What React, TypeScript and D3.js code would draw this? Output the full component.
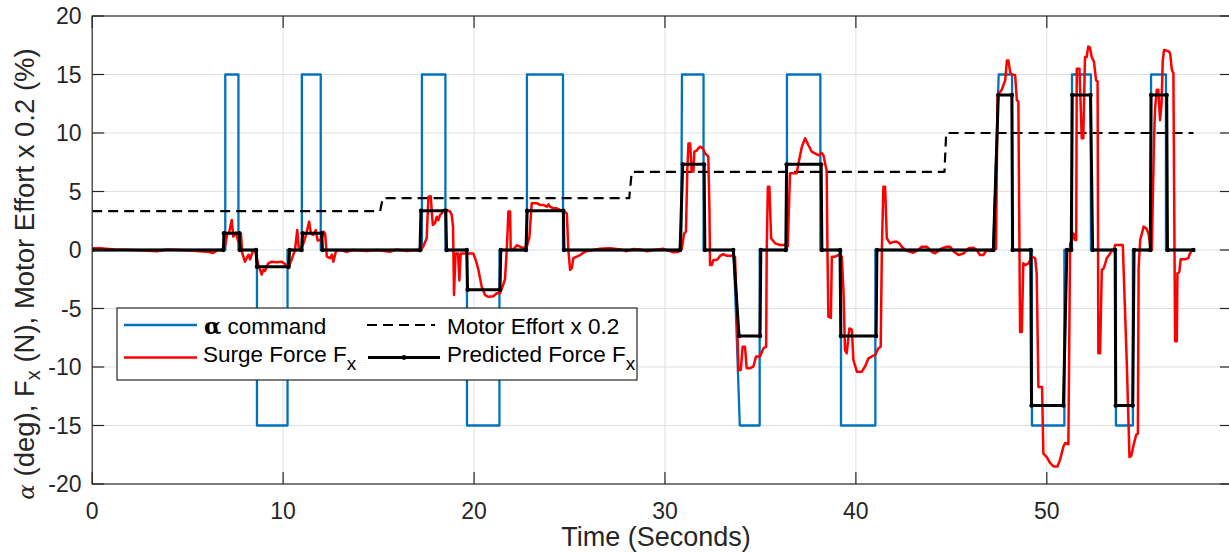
import React from "react";
import * as d3 from "d3";

// ---------- data ----------
const X_TICKS = [0, 10, 20, 30, 40, 50];
const Y_TICKS = [-20, -15, -10, -5, 0, 5, 10, 15, 20];
const X_DOMAIN: [number, number] = [0, 59.7];
const Y_DOMAIN: [number, number] = [-20, 20];

// alpha command (deg)
const commandSeries: [number, number][] = [
  [0, 0], [6.97, 0], [6.97, 15], [7.66, 15], [7.66, 0], [8.63, 0], [8.63, -15], [10.23, -15], [10.23, 0],
  [10.98, 0], [10.98, 15], [11.97, 15], [11.97, 0], [17.27, 0], [17.27, 15], [18.5, 15], [18.5, 0],
  [19.63, 0], [19.63, -15], [21.33, -15], [21.33, 0], [22.77, 0], [22.77, 15], [24.66, 15], [24.66, 0],
  [30.85, 0], [30.89, 15], [32.02, 15], [32.02, 0], [33.6, 0], [33.92, -15], [34.96, -15], [34.96, 0],
  [36.39, 0], [36.39, 15], [38.14, 15], [38.14, 0], [39.22, 0], [39.22, -15], [41.02, -15], [41.02, 0],
  [47.2, 0], [47.48, 15], [48.18, 15], [48.18, 0], [49.22, 0], [49.22, -15], [50.92, -15], [50.92, 0],
  [51.32, 0], [51.32, 15], [52.31, 15], [52.31, 0], [53.62, 0], [53.62, -15], [54.51, -15], [54.51, 0],
  [55.46, 0], [55.46, 15], [56.24, 15], [56.24, 0], [57.68, 0],
];

// motor effort x 0.2 (%)
const motorSeries: [number, number][] = [
  [0, 3.33], [15.08, 3.33], [15.22, 4.44], [28.13, 4.44], [28.26, 6.67], [44.64, 6.67], [44.73, 10], [57.68, 10],
];

// surge force Fx (N)
const surgeSeries: [number, number][] = [
  [0.01, 0.14], [0.41, 0.14], [1.19, 0.05], [2.14, 0], [3.39, -0.1], [3.92, 0.05], [4.6, 0], [5.65, -0.1],
  [6.07, -0.15], [6.33, -0.25], [6.59, 0], [6.85, 0], [6.96, 0.3], [7.06, 1.28], [7.17, 1.5], [7.31, 2.56],
  [7.39, 1.14], [7.53, 1.5], [7.65, 0.7], [7.79, 1.4], [7.86, -0.27], [8.0, -1.0], [8.18, -0.4], [8.27, -0.8],
  [8.41, -0.1], [8.53, 0], [8.7, -1.28], [8.88, -2.1], [8.96, -1.7], [9.05, -1.8], [9.22, -1.14], [9.4, -1.0],
  [9.66, -1.05], [9.93, -1.0], [10.1, -1.2], [10.27, -1.57], [10.45, -0.8], [10.62, 0], [10.74, 1.7], [10.83, 0],
  [10.97, 0.15], [11.15, 1.0], [11.24, 1.57], [11.36, 2.42], [11.46, 1.4], [11.58, 1.3], [11.71, 1.7], [11.81, 0.8],
  [12.02, 0.9], [12.11, 1.57], [12.2, 1.4], [12.29, -0.57], [12.46, -0.7], [12.55, -0.4], [12.63, -1.0], [12.77, -0.1],
  [12.98, 0], [13.33, -0.15], [13.66, 0], [14.38, -0.08], [14.9, 0], [15.6, -0.15], [15.95, 0.05], [16.47, -0.08],
  [17.0, 0], [17.17, -0.08], [17.34, 0.3], [17.52, 1.0], [17.61, 4.56], [17.73, 4.6], [17.84, 2.14], [17.96, 2.3],
  [18.05, 2.85], [18.13, 2.56], [18.22, 3.0], [18.31, 3.13], [18.39, 3.42], [18.57, 3.42], [18.74, 3.3], [18.83, 3.0],
  [18.9, 2.0], [18.95, -3.85], [19.03, -0.3], [19.16, -0.3], [19.23, -2.6], [19.3, -0.3], [19.53, -0.3], [19.96, -0.3],
  [20.1, -0.9], [20.23, -1.7], [20.4, -3.13], [20.58, -3.85], [20.75, -4.0], [21.01, -3.95], [21.19, -3.7], [21.36, -3.7],
  [21.5, -3.1], [21.62, -2.5], [21.71, -0.1], [21.8, 3.28], [21.89, 3.28], [21.92, 0], [22.06, 0.05], [22.24, 0.4],
  [22.41, 0.28], [22.58, 0.15], [22.76, 0.28], [22.9, 1.1], [23.02, 4.0], [23.28, 4.0], [23.46, 3.85], [23.63, 3.85],
  [23.81, 3.7], [23.9, 3.9], [23.98, 3.7], [24.16, 3.56], [24.33, 3.56], [24.51, 3.42], [24.68, 3.36], [24.86, 3.13],
  [24.94, 0], [25.03, -1.7], [25.12, -1.55], [25.2, -0.7], [25.38, -0.57], [25.55, -0.43], [25.73, -0.23], [25.9, -0.1],
  [26.25, 0], [26.6, 0.1], [27.12, 0.14], [27.65, 0.05], [28.0, -0.1], [28.33, 0.08], [28.7, 0.05], [29.05, -0.1],
  [29.39, 0], [29.92, 0.1], [30.44, -0.2], [30.69, -0.15], [30.88, 0.1], [31.0, 1.4], [31.1, 1.57], [31.17, 6.8],
  [31.23, 9.1], [31.32, 9.1], [31.4, 6.7], [31.49, 6.7], [31.54, 8.4], [31.66, 8.5], [31.75, 8.7], [31.84, 8.83],
  [31.98, 8.7], [32.1, 8.26], [32.27, 8.0], [32.33, 3.4], [32.36, -1.28], [32.45, -1.28], [32.54, -0.85], [32.71, -0.85],
  [32.8, -0.7], [32.89, -0.5], [33.06, -0.35], [33.24, -0.5], [33.5, -0.5], [33.67, -0.6], [33.78, -6.0], [33.85, -10.26],
  [33.97, -10.26], [34.07, -8.26], [34.19, -8.26], [34.28, -10.1], [34.46, -10.1], [34.63, -9.96], [34.77, -9.1], [34.98, -9.1],
  [35.16, -8.4], [35.3, -8.26], [35.33, 0], [35.39, 5.4], [35.47, 5.4], [35.56, 1.0], [35.77, 0.57], [36.03, 0.43],
  [36.29, 0.43], [36.43, 0.3], [36.55, 6.55], [36.73, 6.55], [36.9, 6.55], [36.99, 7.4], [37.17, 8.83], [37.34, 9.55],
  [37.51, 8.97], [37.69, 8.4], [37.86, 8.26], [38.04, 8.1], [38.21, 8.3], [38.3, 8.1], [38.39, 7.4], [38.47, 6.8],
  [38.51, 0], [38.56, -5.7], [38.69, -5.8], [38.74, -0.57], [38.91, -0.57], [39.08, -0.43], [39.26, -0.57], [39.35, -3.5],
  [39.43, -8.55], [39.52, -8.83], [39.66, -6.7], [39.79, -6.8], [39.87, -9.4], [40.05, -10.4], [40.31, -10.4], [40.48, -9.96],
  [40.66, -9.26], [40.83, -9.1], [41.01, -8.97], [41.18, -8.4], [41.3, -8.26], [41.36, 0], [41.44, 5.4], [41.53, 5.4],
  [41.62, 1.0], [41.79, 0.57], [41.97, 0.7], [42.14, 0.7], [42.28, 0.57], [42.4, 0.28], [42.58, 0], [42.84, -0.15],
  [43.01, -0.23], [43.27, 0], [43.45, 0.28], [43.71, 0.28], [43.98, -0.15], [44.15, -0.28], [44.5, 0.14], [44.76, 0.28],
  [44.94, 0.28], [45.11, -0.1], [45.37, -0.43], [45.63, -0.3], [45.9, 0.14], [46.16, 0.2], [46.33, 0], [46.5, -0.43],
  [46.68, -0.43], [46.85, 0], [47.02, -0.1], [47.2, 0], [47.34, 0.1], [47.42, 13.2], [47.64, 13.7], [47.82, 14.5],
  [47.91, 16.2], [47.99, 16.2], [48.08, 15.2], [48.17, 15.0], [48.34, 14.96], [48.43, 12.8], [48.51, 12.7], [48.6, -7.0],
  [48.69, -7.0], [48.77, -1.14], [48.86, -1.3], [49.04, -1.14], [49.13, -0.85], [49.21, -0.57], [49.39, -0.7], [49.47, -2.0],
  [49.56, -11.7], [49.75, -11.7], [49.82, -17.4], [50.0, -17.7], [50.17, -18.2], [50.35, -18.5], [50.56, -18.5], [50.7, -17.9],
  [50.87, -16.8], [50.96, -16.5], [51.13, -16.6], [51.22, 0.5], [51.31, 0.85], [51.4, 1.4], [51.48, 0.85], [51.54, 0.85],
  [51.57, 15.5], [51.65, 15.5], [51.71, 15.5], [51.83, 9.55], [51.91, 9.55], [52.0, 16.5], [52.09, 16.5], [52.17, 17.4],
  [52.26, 17.3], [52.35, 16.5], [52.47, 16.1], [52.58, 14.5], [52.66, 14.4], [52.7, -8.83], [52.79, -8.83], [52.88, -1.7],
  [52.97, -1.6], [53.05, -1.2], [53.14, -0.7], [53.32, -0.3], [53.41, 0], [53.49, -0.1], [53.58, 0.43], [53.98, 0.43],
  [54.19, -9.7], [54.33, -17.7], [54.42, -17.6], [54.54, -16.7], [54.68, -15.8], [54.77, -15.7], [54.81, -1.5], [54.89, 0.85],
  [54.98, 1.4], [55.07, 2.0], [55.21, 1.85], [55.33, 1.4], [55.42, 0.3], [55.5, 0], [55.62, 9.7], [55.67, 12.1],
  [55.76, 13.7], [55.84, 13.7], [55.93, 11.1], [56.01, 12.5], [56.07, 16.1], [56.14, 17.1], [56.37, 17.0], [56.46, 16.8],
  [56.55, 15.4], [56.63, 15.1], [56.72, -7.8], [56.81, -7.8], [56.84, -2.0], [56.94, -1.9], [57.01, -0.8], [57.24, -0.8],
  [57.41, -0.7], [57.5, -0.3], [57.64, 0.1],
];

// predicted force Fx (N)
const predictedSeries: [number, number][] = [
  [0, 0], [6.87, 0], [6.9, 1.43], [7.71, 1.43], [7.74, 0], [8.58, 0], [8.63, -1.43], [10.29, -1.43], [10.34, 0],
  [10.97, 0], [11.02, 1.43], [12.02, 1.43], [12.06, 0], [17.17, 0], [17.22, 3.36], [18.52, 3.36], [18.56, 0],
  [19.62, 0], [19.66, -3.4], [21.36, -3.4], [21.4, 0], [22.72, 0], [22.78, 3.36], [24.68, 3.36], [24.71, 0],
  [30.79, 0], [30.93, 7.32], [32.05, 7.32], [32.09, 0], [33.58, 0], [33.88, -7.35], [34.98, -7.35], [35.02, 0],
  [36.33, 0], [36.37, 7.32], [38.18, 7.32], [38.22, 0], [39.17, 0], [39.21, -7.35], [41.06, -7.35], [41.1, 0],
  [47.2, 0], [47.46, 13.25], [48.17, 13.25], [48.21, 0], [49.16, 0], [49.2, -13.3], [50.87, -13.3], [51.05, 0],
  [51.28, 0], [51.33, 13.25], [52.29, 13.25], [52.4, 0], [53.58, 0], [53.61, -13.3], [54.5, -13.3], [54.57, 0],
  [55.42, 0], [55.46, 13.25], [56.28, 13.25], [56.32, 0], [57.68, 0],
];

// ---------- layout ----------
const W = 1229;
const H = 552;
const PLOT = { left: 92.2, right: 1232, top: 16, bottom: 484 };
const FONT = "'Liberation Sans', Arial, Helvetica, sans-serif";
const AXIS_COLOR = "#262626";
const GRID_COLOR = "#dfdfdf";
const BLUE = "#0072BD";
const RED = "#FF0000";

export default function App() {
  const x = d3.scaleLinear().domain(X_DOMAIN).range([PLOT.left, PLOT.right]);
  const y = d3.scaleLinear().domain(Y_DOMAIN).range([PLOT.bottom, PLOT.top]);
  const line = d3
    .line<[number, number]>()
    .x((d) => x(d[0]))
    .y((d) => y(d[1]));

  const tickLen = 12;

  // legend geometry
  const lg = { x0: 117, y0: 308, x1: 637, y1: 380 };
  const row1 = 325;
  const row2 = 357.5;
  const legendFont = 22.5;

  return (
    <svg
      width={W}
      height={H}
      viewBox={`0 0 ${W} ${H}`}
      style={{ position: "absolute", left: 0, top: 0, display: "block", background: "#fff" }}
      fontFamily={FONT}
    >
      <defs>
        <clipPath id="plotClip">
          <rect x={PLOT.left} y={PLOT.top} width={PLOT.right - PLOT.left} height={PLOT.bottom - PLOT.top} />
        </clipPath>
      </defs>
      <rect x={0} y={0} width={W} height={H} fill="#fff" />

      {/* grid */}
      <g stroke={GRID_COLOR} strokeWidth={1}>
        {X_TICKS.filter((t) => t !== X_DOMAIN[0]).map((t) => (
          <line key={"gx" + t} x1={x(t)} x2={x(t)} y1={PLOT.top} y2={PLOT.bottom} />
        ))}
        {Y_TICKS.filter((t) => t !== Y_DOMAIN[0] && t !== Y_DOMAIN[1]).map((t) => (
          <line key={"gy" + t} x1={PLOT.left} x2={PLOT.right} y1={y(t)} y2={y(t)} />
        ))}
      </g>

      {/* series */}
      <g clipPath="url(#plotClip)" fill="none" strokeLinejoin="round">
        <path d={line(commandSeries) || ""} stroke={BLUE} strokeWidth={2.3} />
        <path d={line(motorSeries) || ""} stroke="#000" strokeWidth={2.2} strokeDasharray="10,6" />
        <path d={line(surgeSeries) || ""} stroke={RED} strokeWidth={2.5} />
        <path d={line(predictedSeries) || ""} stroke="#000" strokeWidth={3} />
        <g fill="#000">
          {predictedSeries.map((d, i) => (
            <circle key={"pm" + i} cx={x(d[0])} cy={y(d[1])} r={2.2} />
          ))}
        </g>
      </g>

      {/* axes box */}
      <rect
        x={PLOT.left}
        y={PLOT.top}
        width={PLOT.right - PLOT.left}
        height={PLOT.bottom - PLOT.top}
        fill="none"
        stroke={AXIS_COLOR}
        strokeWidth={1.2}
      />

      {/* ticks */}
      <g stroke={AXIS_COLOR} strokeWidth={1.2}>
        {X_TICKS.map((t) => (
          <g key={"tx" + t}>
            <line x1={x(t)} x2={x(t)} y1={PLOT.bottom} y2={PLOT.bottom - tickLen} />
            <line x1={x(t)} x2={x(t)} y1={PLOT.top} y2={PLOT.top + tickLen} />
          </g>
        ))}
        {Y_TICKS.map((t) => (
          <g key={"ty" + t}>
            <line x1={PLOT.left} x2={PLOT.left + tickLen} y1={y(t)} y2={y(t)} />
            <line x1={PLOT.right} x2={PLOT.right - tickLen} y1={y(t)} y2={y(t)} />
          </g>
        ))}
      </g>

      {/* tick labels */}
      <g fill={AXIS_COLOR} fontSize={23}>
        {X_TICKS.map((t) => (
          <text key={"lx" + t} x={x(t)} y={519} textAnchor="middle">
            {t}
          </text>
        ))}
        {Y_TICKS.map((t) => (
          <text key={"ly" + t} x={81.5} y={y(t) + 8.3} textAnchor="end">
            {t}
          </text>
        ))}
      </g>

      {/* axis labels */}
      <text x={656} y={546} textAnchor="middle" fontSize={27} fill={AXIS_COLOR}>
        Time (Seconds)
      </text>
      <text transform={`translate(34, 274) rotate(-90)`} textAnchor="middle" fontSize={27.5} fill={AXIS_COLOR}>
        <tspan fontFamily="'DejaVu Serif', serif" fontStyle="italic" fontSize={23}>
          α
        </tspan>
        <tspan> (deg), F</tspan>
        <tspan fontSize={20} dy={6}>
          x
        </tspan>
        <tspan dy={-6}> (N), Motor Effort x 0.2 (%)</tspan>
      </text>

      {/* legend */}
      <g>
        <rect x={lg.x0} y={lg.y0} width={lg.x1 - lg.x0} height={lg.y1 - lg.y0} fill="#fff" stroke={AXIS_COLOR} strokeWidth={1.2} />
        <line x1={124} x2={197} y1={row1} y2={row1} stroke={BLUE} strokeWidth={2.3} />
        <line x1={124} x2={197} y1={row2} y2={row2} stroke={RED} strokeWidth={2.5} />
        <line x1={367} x2={435} y1={row1} y2={row1} stroke="#000" strokeWidth={2.2} strokeDasharray="10,6" />
        <line x1={368} x2={440} y1={row2} y2={row2} stroke="#000" strokeWidth={3} />
        <circle cx={404} cy={row2} r={2.4} fill="#000" />
        <g fontSize={legendFont} fill="#000">
          <text x={204} y={334}>
            <tspan fontFamily="'DejaVu Serif', serif" fontWeight="bold">
              α
            </tspan>
            <tspan> command</tspan>
          </text>
          <text x={203} y={362}>
            <tspan>Surge Force F</tspan>
            <tspan fontSize={19} dy={8}>
              x
            </tspan>
          </text>
          <text x={447} y={334}>
            Motor Effort x 0.2
          </text>
          <text x={447} y={362}>
            <tspan>Predicted Force F</tspan>
            <tspan fontSize={19} dy={8}>
              x
            </tspan>
          </text>
        </g>
      </g>
    </svg>
  );
}
